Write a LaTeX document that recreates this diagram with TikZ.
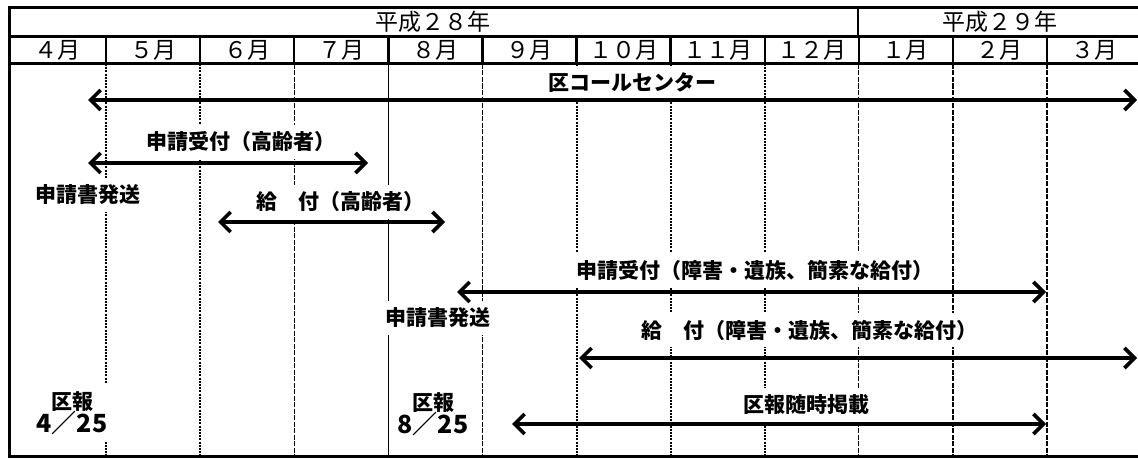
\documentclass[tikz,border=0pt]{standalone}
\usepackage{fontspec}
\setmainfont{Noto Sans CJK JP}
\usetikzlibrary{arrows.meta}

\tikzset{
  jp/.style={font=\fontsize{23}{23}\selectfont},
  lbl/.style={font=\fontsize{21}{21}\selectfont\bfseries, fill=white, inner xsep=3pt, inner ysep=7pt},
  frameline/.style={line width=3pt},
  dotline/.style={line width=2pt, dash pattern=on 2pt off 1.2pt},
  dashline/.style={line width=1.3pt, dash pattern=on 5pt off 1.5pt},
  solidline/.style={line width=1.3pt},
  arr/.style={line width=3.6pt, {Straight Barb[length=10pt,width=20pt]}-{Straight Barb[length=10pt,width=20pt]}}
}

\begin{document}
\begin{tikzpicture}[x=1pt, y=-1pt]
  \useasboundingbox (0,0) rectangle (1138,460);

  % Define the outer frame and the header rows
  \draw[frameline] (9,8) rectangle (1142,456);
  \draw[frameline] (9,37) -- (1142,37);
  \draw[frameline] (9,64) -- (1142,64);
  \draw[line width=2.4pt] (858,8) -- (858,37);

  % Years
  \node[jp] (y28) at (433,22) {平成２８年};
  \node[jp] (y29) at (1000,22) {平成２９年};

  % Months
  \node[jp] (m0) at (57.5,50.5) {４月};
  \foreach \m [count=\i] in {５月,６月,７月,８月,９月,１０月,１１月,１２月,１月,２月,３月} {
    \draw[line width=2.4pt] ({106+94.1*(\i-1)},37) -- ++(0,27);
    \node[jp] (m\i) at ({106+94.1*(\i-0.5)},50.5) {\m};
  }

  % Month lines in the body
  \foreach \i/\sty in {1/dotline, 2/dotline, 3/dashline, 4/solidline, 5/dashline, 6/dotline,
                       7/dotline, 8/dotline, 9/dashline, 10/dashline, 11/dashline} {
    \draw[\sty] ({106+94.1*(\i-1)},64) -- ++(0,392);
  }

  % Label the periods
  \node[lbl] (call) at (632,83) {区コールセンター};
  \node[lbl] (uketsukeA) at (241,142) {申請受付（高齢者）};
  \node[lbl] (hassouA) at (88,195) {申請書発送};
  \node[lbl] (kyufuA) at (340,202) {給　付（高齢者）};
  \node[lbl] (uketsukeB) at (755,270) {申請受付（障害・遺族、簡素な給付）};
  \node[lbl] (hassouB) at (438,318) {申請書発送};
  \node[lbl] (kyufuB) at (809,330) {給　付（障害・遺族、簡素な給付）};
  \node[lbl] (zuiji) at (806,405) {区報随時掲載};
  \node[lbl, align=center] (kuhoA) at (72,413) {区報\\[-1pt]{\fontsize{25}{25}\selectfont 4／25}};
  \node[lbl, align=center] (kuhoB) at (433,414) {区報\\[-1pt]{\fontsize{25}{25}\selectfont 8／25}};

  % Arrow ends
  \coordinate (callL) at (88,100);
  \coordinate (callR) at (1137,100);
  \coordinate (uketsukeAL) at (88,163);
  \coordinate (uketsukeAR) at (368,163);
  \coordinate (kyufuAL) at (218,222);
  \coordinate (kyufuAR) at (445,222);
  \coordinate (uketsukeBL) at (457,292);
  \coordinate (uketsukeBR) at (1046,292);
  \coordinate (kyufuBL) at (579,358);
  \coordinate (kyufuBR) at (1137,358);
  \coordinate (zuijiL) at (512,424);
  \coordinate (zuijiR) at (1046,424);

  % Arrows
  \foreach \a in {call, uketsukeA, kyufuA, uketsukeB, kyufuB, zuiji} {
    \draw[arr] (\a L) -- (\a R);
  }
\end{tikzpicture}
\end{document}
